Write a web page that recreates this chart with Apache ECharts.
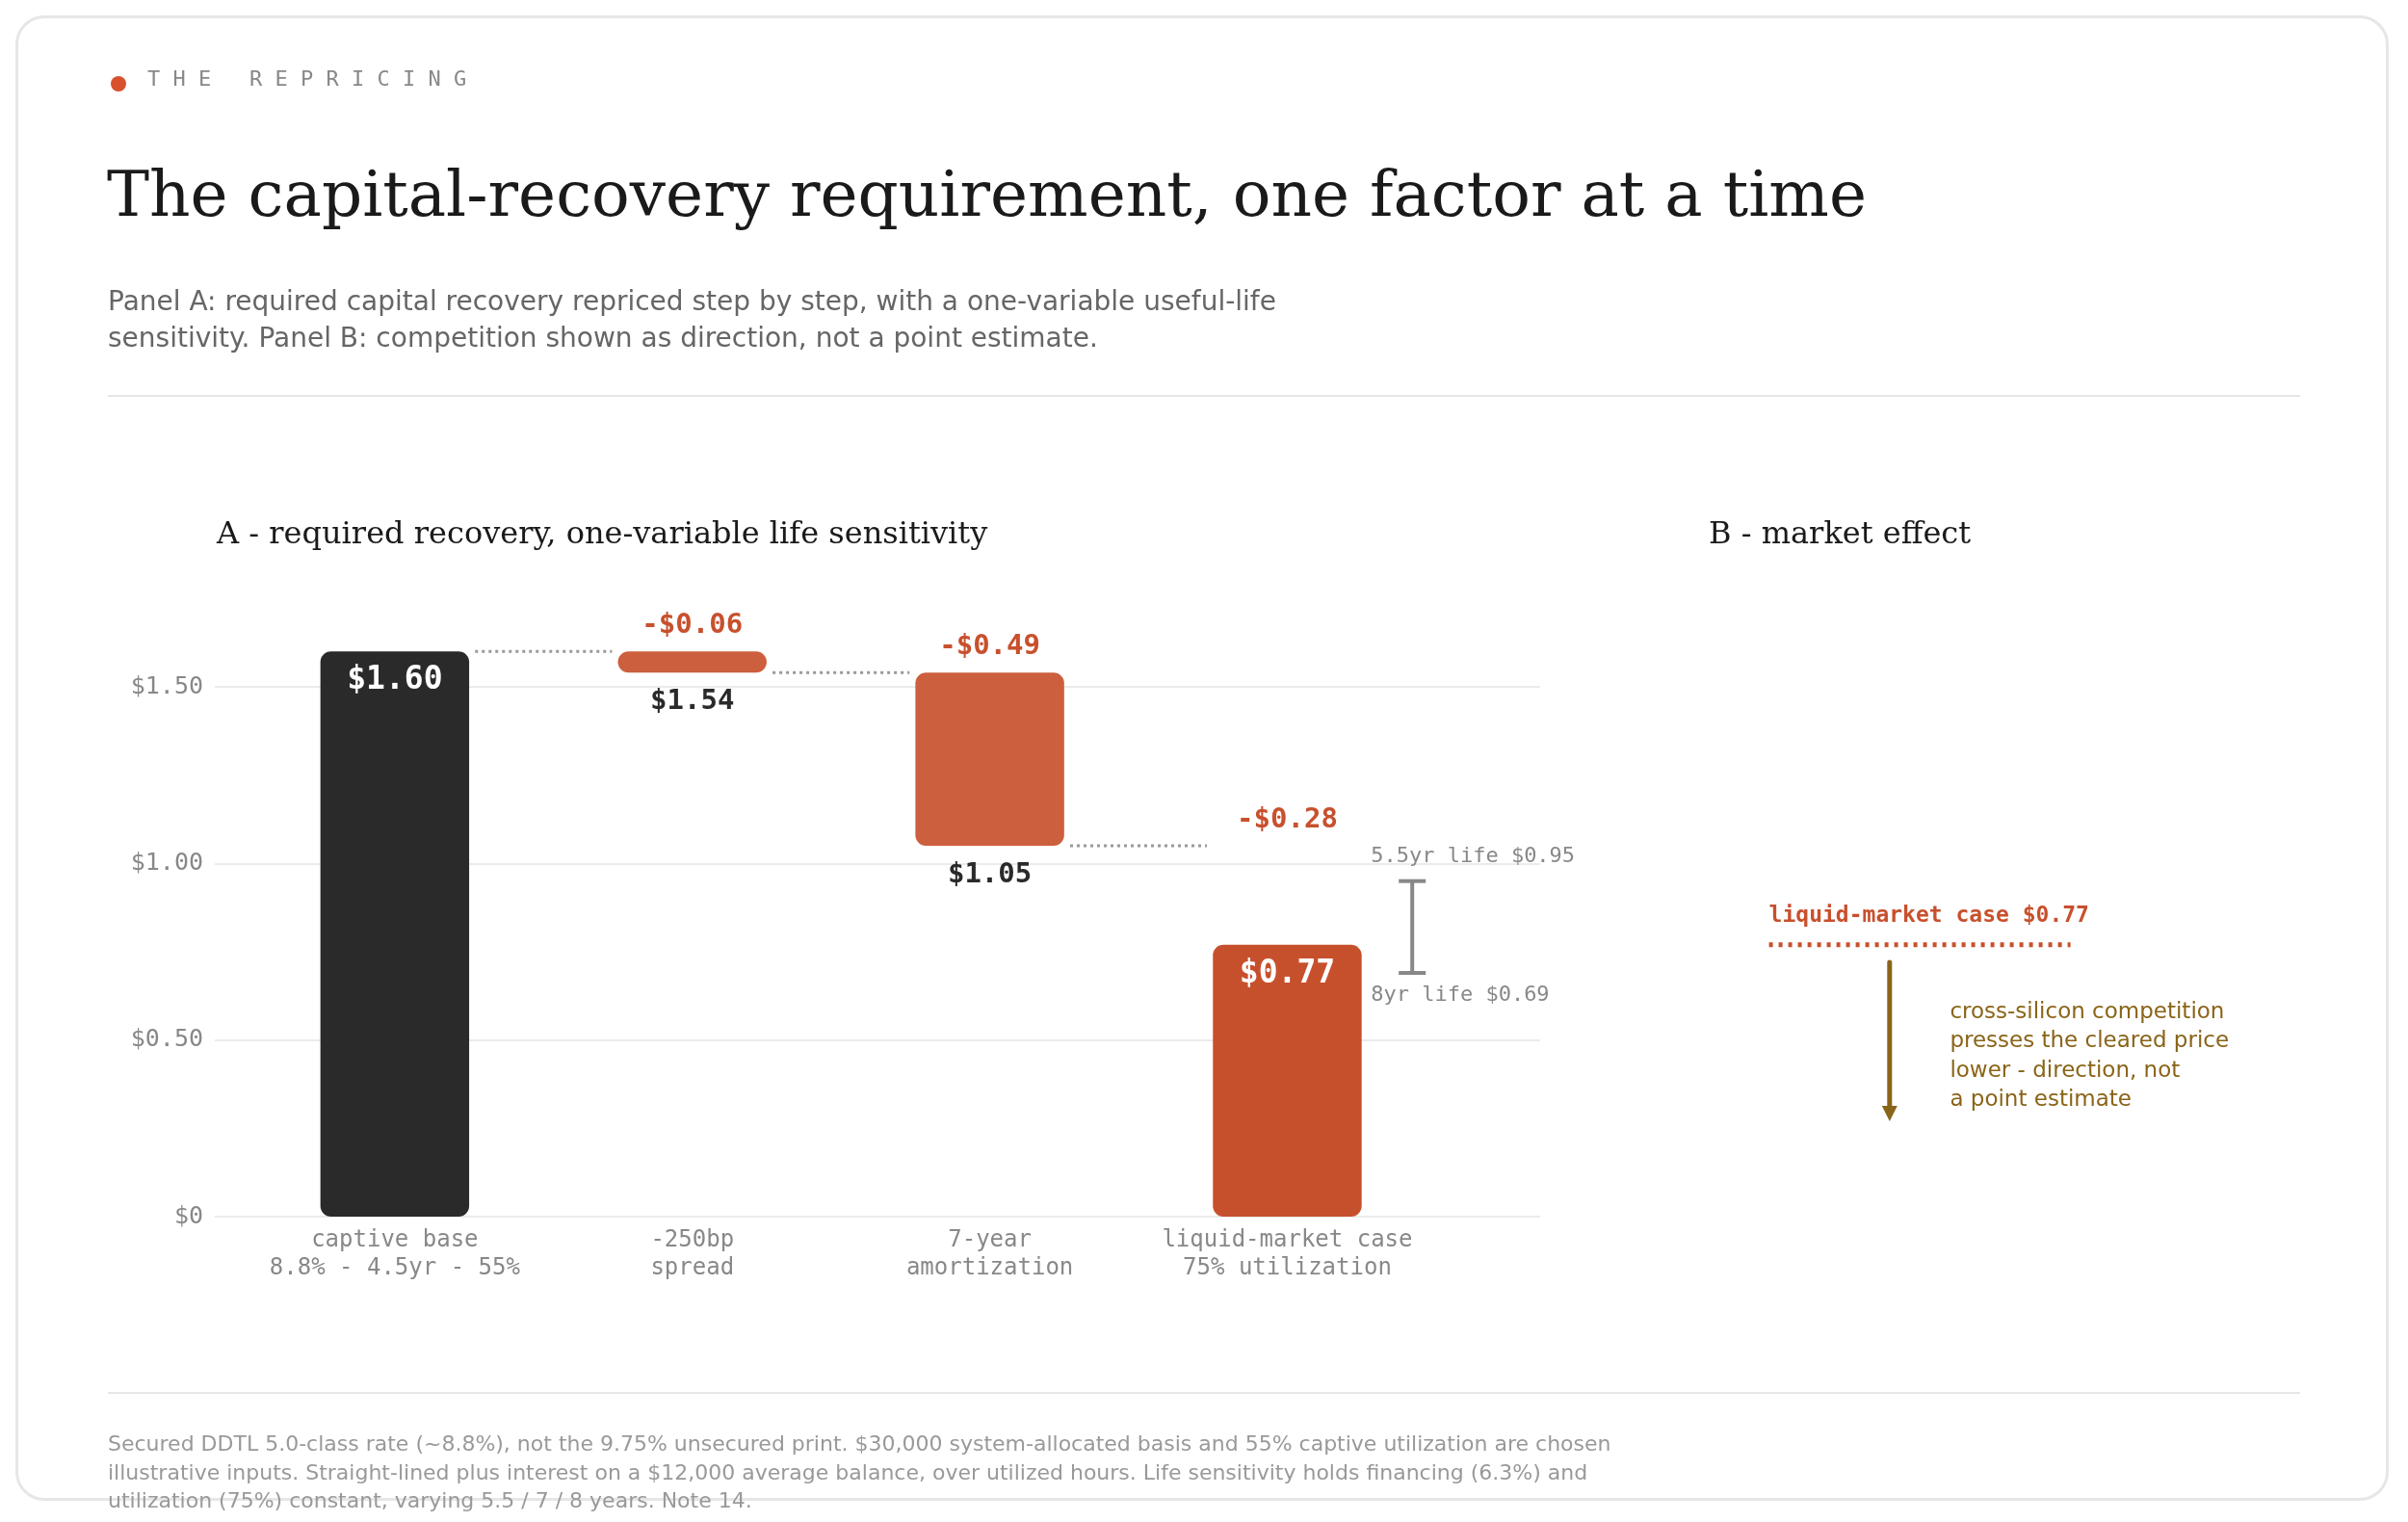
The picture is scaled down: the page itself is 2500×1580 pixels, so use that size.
<!DOCTYPE html>
<html>
<head>
<meta charset="utf-8">
<script src="https://cdn.jsdelivr.net/npm/echarts@6/dist/echarts.min.js"></script>
<style>
  html, body { margin: 0; padding: 0; background: #fff; }
  #card { position: absolute; left: 16px; top: 16px; width: 2464px; height: 1542px;
          border: 3px solid #e6e6e6; border-radius: 30px; box-sizing: border-box; }
  #chart { position: absolute; left: 0; top: 0; width: 2500px; height: 1580px; }
</style>
</head>
<body>
<div id="card"></div>
<div id="chart"></div>
<script>
// categories and values
const categories = ["captive base\n8.8% - 4.5yr - 55%", "-250bp\nspread", "7-year\namortization", "liquid-market case\n75% utilization"];
const baseValue = 1.60;
const deltas = [-0.06, -0.49, -0.28];
const finalValue = 0.77;
const lifeHigh = 0.95;   // 5.5yr life
const lifeLow = 0.69;    // 8yr life
const yTicks = [0, 0.5, 1.0, 1.5];
const marketArrowEnd = 0.27;

const mono = "DejaVu Sans Mono";
const serif = "DejaVu Serif";
const sans = "DejaVu Sans";
const money = v => (v < 0 ? "-$" : "$") + Math.abs(v).toFixed(2);

// build the waterfall levels
const levels = [baseValue];
deltas.forEach(d => levels.push(+(levels[levels.length - 1] + d).toFixed(2)));

const barData = [
  [0, 0, baseValue, "#2a2a2a", money(baseValue)],
  [1, levels[1], levels[0], "#cc5f3d", ""],
  [2, levels[2], levels[1], "#cc5f3d", ""],
  [3, 0, finalValue, "#c7502c", money(finalValue)]
];
const connectorData = [[0, levels[0]], [1, levels[1]], [2, levels[2]]];
const deltaLabelData = deltas.map((d, i) => [i + 1, levels[i], money(d)]);
const resultLabelData = [[1, levels[1], money(levels[1])], [2, levels[2], money(levels[2])]];
const catLabelData = categories.map((c, i) => [i, 0, c]);
const half = 0.25;

const chart = echarts.init(document.getElementById("chart"));

chart.setOption({
  animation: false,
  grid: [
    { left: 223, top: 713, width: 1376, height: 550 },
    { left: 1774, top: 713, width: 626, height: 550 }
  ],
  xAxis: [
    { gridIndex: 0, type: "value", min: -0.605, max: 3.85, show: false },
    { gridIndex: 1, type: "value", min: 0, max: 10, show: false }
  ],
  yAxis: [
    {
      gridIndex: 0, type: "value", min: 0, max: 1.5, interval: 0.5,
      axisLine: { show: false }, axisTick: { show: false },
      splitLine: { lineStyle: { color: "#ebebeb", width: 2 } },
      axisLabel: { fontFamily: mono, fontSize: 25, color: "#888", margin: 12,
        formatter: v => (v === 0 ? "$0" : "$" + v.toFixed(2)) }
    },
    { gridIndex: 1, type: "value", min: 0, max: 1.5, show: false }
  ],
  graphic: [
    { type: "circle", shape: { cx: 123, cy: 87, r: 8 }, style: { fill: "#d9502d" } },
    { type: "text", left: 153, top: 72, style: { text: "T H E   R E P R I C I N G", font: "22px '" + mono + "'", fill: "#888", letterSpacing: 12 } },
    { type: "text", left: 111, top: 174, style: { text: "The capital-recovery requirement, one factor at a time", font: "66px '" + serif + "'", fill: "#1a1a1a" } },
    { type: "text", left: 112, top: 296, style: { text: "Panel A: required capital recovery repriced step by step, with a one-variable useful-life\nsensitivity. Panel B: competition shown as direction, not a point estimate.", font: "28px '" + sans + "'", fill: "#666", lineHeight: 38 } },
    { type: "rect", shape: { x: 112, y: 410, width: 2276, height: 2 }, style: { fill: "#e6e6e6" } },
    { type: "text", left: 225, top: 540, style: { text: "A - required recovery, one-variable life sensitivity", font: "32px '" + serif + "'", fill: "#1a1a1a" } },
    { type: "text", left: 1774, top: 540, style: { text: "B - market effect", font: "32px '" + serif + "'", fill: "#1a1a1a" } },
    { type: "rect", shape: { x: 112, y: 1445, width: 2276, height: 2 }, style: { fill: "#e6e6e6" } },
    { type: "text", left: 112, top: 1486, style: { text: "Secured DDTL 5.0-class rate (~8.8%), not the 9.75% unsecured print. $30,000 system-allocated basis and 55% captive utilization are chosen\nillustrative inputs. Straight-lined plus interest on a $12,000 average balance, over utilized hours. Life sensitivity holds financing (6.3%) and\nutilization (75%) constant, varying 5.5 / 7 / 8 years. Note 14.", font: "22px '" + sans + "'", fill: "#999", lineHeight: 29.5 } }
  ],
  series: [
    {
      type: "custom", xAxisIndex: 0, yAxisIndex: 0, data: barData, z: 3,
      renderItem: (params, api) => {
        const d = barData[params.dataIndex];
        const a = api.coord([d[0] - half, d[2]]);
        const b = api.coord([d[0] + half, d[1]]);
        const children = [{ type: "rect", shape: { x: a[0], y: a[1], width: b[0] - a[0], height: b[1] - a[1], r: 11 }, style: { fill: d[3] } }];
        if (d[4]) children.push({ type: "text", style: { x: (a[0] + b[0]) / 2, y: a[1] + 14, text: d[4], align: "center", verticalAlign: "top", font: "bold 33px '" + mono + "'", fill: "#fff" } });
        return { type: "group", children };
      }
    },
    {
      type: "custom", xAxisIndex: 0, yAxisIndex: 0, data: connectorData, z: 2,
      renderItem: (params, api) => {
        const d = connectorData[params.dataIndex];
        const a = api.coord([d[0] + half + 0.02, d[1]]);
        const b = api.coord([d[0] + 1 - half - 0.02, d[1]]);
        return { type: "line", shape: { x1: a[0], y1: a[1], x2: b[0], y2: b[1] }, style: { stroke: "#999", lineWidth: 3, lineDash: [3, 4] } };
      }
    },
    {
      type: "custom", xAxisIndex: 0, yAxisIndex: 0, data: deltaLabelData, z: 4,
      renderItem: (params, api) => {
        const d = deltaLabelData[params.dataIndex];
        const p = api.coord([d[0], d[1]]);
        return { type: "text", style: { x: p[0], y: p[1] - 12, text: d[2], align: "center", verticalAlign: "bottom", font: "bold 29px '" + mono + "'", fill: "#c8502d" } };
      }
    },
    {
      type: "custom", xAxisIndex: 0, yAxisIndex: 0, data: resultLabelData, z: 4,
      renderItem: (params, api) => {
        const d = resultLabelData[params.dataIndex];
        const p = api.coord([d[0], d[1]]);
        return { type: "text", style: { x: p[0], y: p[1] + 16, text: d[2], align: "center", verticalAlign: "top", font: "bold 29px '" + mono + "'", fill: "#2a2a2a" } };
      }
    },
    {
      type: "custom", xAxisIndex: 0, yAxisIndex: 0, data: catLabelData, z: 4,
      renderItem: (params, api) => {
        const d = catLabelData[params.dataIndex];
        const p = api.coord([d[0], d[1]]);
        return { type: "text", style: { x: p[0], y: p[1] + 10, text: d[2], align: "center", verticalAlign: "top", font: "24px '" + mono + "'", fill: "#888", lineHeight: 29 } };
      }
    },
    {
      type: "custom", xAxisIndex: 0, yAxisIndex: 0, data: [[3.42, lifeLow, lifeHigh]], z: 4,
      renderItem: (params, api) => {
        const top = api.coord([3.42, lifeHigh]);
        const bot = api.coord([3.42, lifeLow]);
        const st = { stroke: "#888", lineWidth: 4 };
        return { type: "group", children: [
          { type: "line", shape: { x1: top[0], y1: top[1], x2: bot[0], y2: bot[1] }, style: st },
          { type: "line", shape: { x1: top[0] - 14, y1: top[1], x2: top[0] + 14, y2: top[1] }, style: st },
          { type: "line", shape: { x1: bot[0] - 14, y1: bot[1], x2: bot[0] + 14, y2: bot[1] }, style: st },
          { type: "text", style: { x: top[0] - 43, y: top[1] - 14, text: "5.5yr life " + money(lifeHigh), verticalAlign: "bottom", font: "22px '" + mono + "'", fill: "#888" } },
          { type: "text", style: { x: top[0] - 43, y: bot[1] + 12, text: "8yr life " + money(lifeLow), verticalAlign: "top", font: "22px '" + mono + "'", fill: "#888" } }
        ] };
      }
    },
    {
      type: "custom", xAxisIndex: 1, yAxisIndex: 1, data: [[0, finalValue]], z: 4,
      renderItem: (params, api) => {
        const l0 = api.coord([1.0, finalValue]);
        const l1 = api.coord([6.0, finalValue]);
        const a0 = api.coord([3.0, finalValue - 0.05]);
        const a1 = api.coord([3.0, marketArrowEnd]);
        const t = api.coord([4.0, 0.62]);
        const brown = "#8a6418";
        return { type: "group", children: [
          { type: "text", style: { x: l0[0], y: l0[1] - 18, text: "liquid-market case " + money(finalValue), verticalAlign: "bottom", font: "bold 23px '" + mono + "'", fill: "#c8502d" } },
          { type: "line", shape: { x1: l0[0], y1: l0[1], x2: l1[0], y2: l1[1] }, style: { stroke: "#c8502d", lineWidth: 5, lineDash: [4, 6] } },
          { type: "line", shape: { x1: a0[0], y1: a0[1], x2: a1[0], y2: a1[1] - 14 }, style: { stroke: brown, lineWidth: 5, lineCap: "round" } },
          { type: "polygon", shape: { points: [[a1[0] - 8, a1[1] - 16], [a1[0] + 8, a1[1] - 16], [a1[0], a1[1]]] }, style: { fill: brown } },
          { type: "text", style: { x: t[0], y: t[1], text: "cross-silicon competition\npresses the cleared price\nlower - direction, not\na point estimate", verticalAlign: "top", font: "23px '" + sans + "'", fill: brown, lineHeight: 30.5 } }
        ] };
      }
    }
  ]
});
</script>
</body>
</html>
